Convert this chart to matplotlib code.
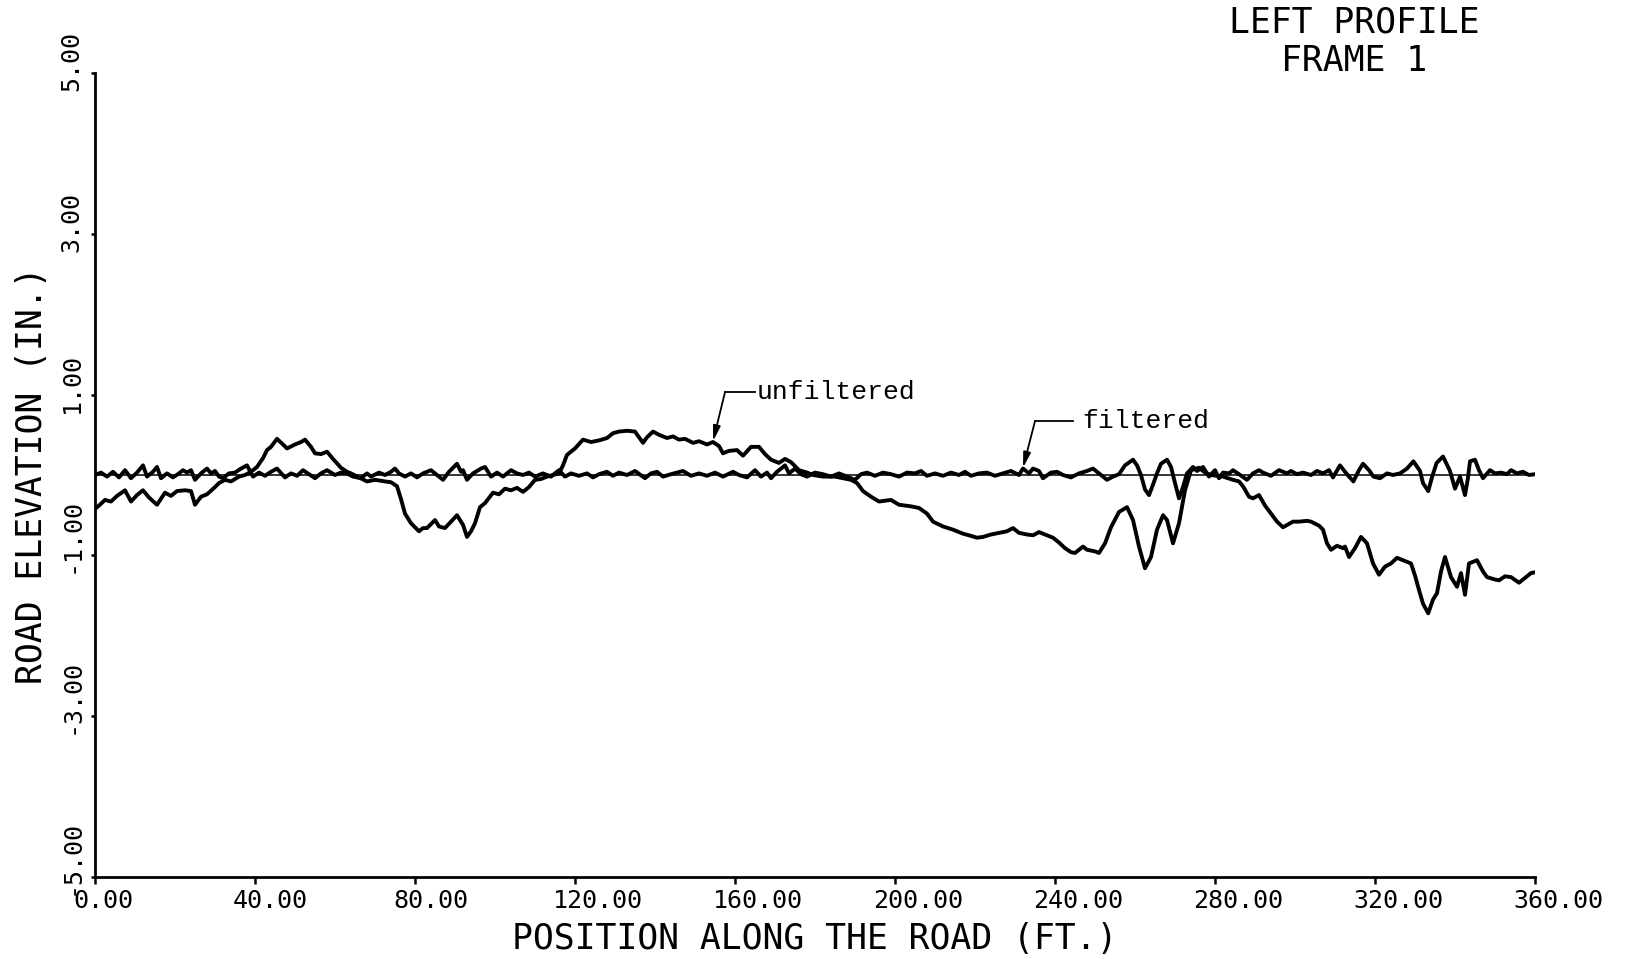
import matplotlib
matplotlib.use("Agg")
import matplotlib.pyplot as plt
import matplotlib.transforms as mtransforms

# Unfiltered road profile (position in ft, elevation in inches)
unf_x = [0, 1, 2.5, 4, 5.5, 7.5, 9, 10.5, 12, 13.5, 15.5, 17.5, 19, 20.5, 22.5, 24, 25,
         26.5, 28, 30, 31, 32.5, 34, 36, 37.5, 39, 40.5, 42, 43, 44, 45.5, 47, 48, 50,
         51.5, 52.5, 54, 55, 56.5, 58, 59.5, 61.5, 63, 64, 66, 68, 70, 72.5, 74, 75.5,
         76.5, 77.5, 79, 81, 82, 83, 85, 86, 87.5, 89, 90.5, 92, 93, 94, 95, 96.25,
         97.5, 99.5, 101, 102.5, 104, 105.5, 107, 108.5, 110, 111.5, 113, 116, 117, 118,
         120, 122, 124, 126, 128, 129.5, 131, 133, 135, 137, 138, 139.5, 141, 143,
         144.5, 146, 147.5, 149.5, 151, 153, 154.5, 156, 157, 158.5, 160.5, 162, 164,
         166, 167.5, 169, 171, 172.5, 174, 176, 178, 179.5, 182, 185, 187, 189, 190.5,
         192, 194, 196, 199, 201, 204, 206, 208, 209.5, 212, 214.5, 217, 218.5, 220.5,
         222, 224, 226, 228, 229.5, 231, 233, 234.5, 236, 238, 239.5, 241, 242.5, 244,
         245, 247, 248, 250, 251, 252.5, 254, 256, 258, 259.5, 261, 262.5, 264, 265.5,
         267, 268, 269.5, 271, 272.5, 274, 276, 277.5, 279, 282, 284.5, 286, 287,
         288.5, 289.5, 291, 292.5, 294, 295.5, 297, 299.5, 301, 303, 304, 306, 307, 308,
         309, 310.5, 312, 312.5, 313.5, 315, 316.5, 318, 319.5, 321, 322.5, 324, 325.5,
         327, 329, 330, 331, 332, 333.3, 334.5, 335.5, 336.5, 337.5, 339, 340.5, 341.5,
         342.5, 343.5, 345.5, 347, 348, 350, 351, 352.5, 354, 356, 357.5, 359, 360]
unf_y = [-0.42, -0.38, -0.31, -0.33, -0.26, -0.19, -0.33, -0.25, -0.19, -0.28, -0.37,
         -0.22, -0.26, -0.20, -0.19, -0.20, -0.37, -0.27, -0.24, -0.15, -0.10, -0.06,
         -0.08, -0.02, 0.00, 0.04, 0.10, 0.21, 0.31, 0.35, 0.45, 0.38, 0.33, 0.38, 0.41,
         0.44, 0.35, 0.27, 0.26, 0.29, 0.20, 0.09, 0.04, 0.02, -0.03, -0.08, -0.06,
         -0.08, -0.09, -0.14, -0.30, -0.48, -0.60, -0.70, -0.66, -0.66, -0.56, -0.64,
         -0.66, -0.58, -0.50, -0.62, -0.77, -0.70, -0.60, -0.40, -0.35, -0.22, -0.24,
         -0.17, -0.19, -0.16, -0.21, -0.15, -0.06, -0.05, -0.02, 0.02, 0.12, 0.25, 0.33,
         0.44, 0.41, 0.43, 0.46, 0.52, 0.54, 0.55, 0.54, 0.40, 0.47, 0.54, 0.50, 0.46,
         0.48, 0.44, 0.45, 0.40, 0.42, 0.38, 0.41, 0.36, 0.27, 0.30, 0.31, 0.24, 0.35,
         0.35, 0.26, 0.19, 0.15, 0.20, 0.16, 0.06, 0.03, 0.00, -0.02, -0.02, -0.04,
         -0.06, -0.10, -0.20, -0.27, -0.33, -0.31, -0.37, -0.39, -0.41, -0.48, -0.58,
         -0.64, -0.68, -0.73, -0.75, -0.78, -0.77, -0.74, -0.72, -0.70, -0.66, -0.72,
         -0.74, -0.75, -0.71, -0.75, -0.78, -0.84, -0.91, -0.96, -0.97, -0.89, -0.93,
         -0.95, -0.97, -0.85, -0.65, -0.46, -0.40, -0.56, -0.89, -1.16, -1.02, -0.68,
         -0.50, -0.56, -0.85, -0.60, -0.19, 0.06, 0.09, 0.03, 0.00, -0.02, -0.06, -0.08,
         -0.14, -0.27, -0.29, -0.25, -0.38, -0.48, -0.58, -0.65, -0.58, -0.58, -0.57,
         -0.58, -0.63, -0.68, -0.85, -0.93, -0.88, -0.91, -0.89, -1.02, -0.91, -0.77,
         -0.85, -1.10, -1.24, -1.14, -1.10, -1.03, -1.06, -1.10, -1.25, -1.43, -1.60,
         -1.72, -1.55, -1.47, -1.20, -1.02, -1.27, -1.39, -1.22, -1.49, -1.10, -1.06,
         -1.20, -1.27, -1.30, -1.31, -1.26, -1.27, -1.34, -1.28, -1.22, -1.21]

# Filtered road profile
fil_x = [0, 1.5, 3, 4.5, 6, 7.5, 9, 10.5, 12, 13, 14.5, 15.5, 16.5, 18, 19.5, 21, 22,
         23, 24, 25, 26.5, 28, 29, 30, 31, 32, 33.5, 35, 36.5, 38, 39.5, 41, 42.5, 44,
         45.5, 47.5, 49, 50.5, 52, 53.5, 55, 56.5, 58, 60, 61.5, 63, 64.5, 66.5, 68,
         69, 71, 72.5, 74, 75, 76, 77.5, 79, 80.5, 82, 84, 85.5, 87, 88.5, 90.5, 91.5,
         92, 93, 94.5, 96.5, 97.5, 99, 100.5, 102, 104, 105.5, 107, 108.5, 110, 112,
         114, 116, 117.5, 119, 121, 123, 124.5, 126, 128, 129.5, 131, 133, 135, 137.5,
         139, 140.5, 142, 144, 145.5, 147, 149, 151, 153, 155, 157, 159.5, 161, 163,
         165, 166.5, 168, 169, 170.5, 172.5, 173.5, 175, 176.5, 178, 180, 182, 184, 186,
         188, 190, 191.5, 193, 195, 197, 199, 201, 203, 205, 206.5, 208, 210, 212, 214,
         216, 217.5, 219, 221, 223, 225, 227, 229, 231, 232, 233.5, 234.5, 236, 237,
         239, 240.5, 242, 244, 246, 248, 249.5, 251, 253, 254.5, 256, 257.5, 259.5,
         260.5, 261.5, 262.5, 263.5, 264.5, 265.5, 266.5, 268, 269, 270, 271, 272, 273,
         274.5, 275.5, 277, 278.5, 280, 281, 282, 283.5, 284.5, 286, 288, 289.5, 291,
         292, 294, 296, 298, 299, 300.5, 302, 304, 305.5, 307, 308.5, 309.5, 311.25,
         312.5, 313.5, 314.6, 316, 317, 318.5, 319.6, 321.25, 323, 324.5, 326.25, 328,
         329.6, 331.25, 332, 333.3, 334.3, 335.4, 337, 338.75, 340, 341.25, 342.5,
         343.2, 343.75, 345, 346, 347, 348.75, 350, 351.5, 353, 354, 355.5, 357, 358.5,
         360]
fil_y = [0.00, 0.03, -0.02, 0.04, -0.03, 0.06, -0.04, 0.03, 0.12, -0.02, 0.04, 0.10,
         -0.04, 0.02, -0.03, 0.02, 0.06, 0.03, 0.06, -0.06, 0.02, 0.08, 0.02, 0.05,
         -0.02, -0.04, 0.02, 0.03, 0.08, 0.12, -0.02, 0.03, -0.01, 0.04, 0.08, -0.03,
         0.02, -0.01, 0.06, 0.01, -0.04, 0.02, 0.06, 0.00, 0.03, 0.02, -0.02, -0.04,
         0.02, -0.02, 0.03, 0.00, 0.04, 0.08, 0.02, -0.02, 0.02, -0.03, 0.02, 0.06, 0.00,
         -0.06, 0.04, 0.14, 0.04, 0.06, -0.06, 0.02, 0.08, 0.10, -0.02, 0.03, -0.02,
         0.06, 0.02, 0.00, 0.03, -0.02, 0.02, -0.02, 0.06, -0.02, 0.02, -0.01, 0.02,
         -0.03, 0.01, 0.04, -0.01, 0.03, 0.00, 0.05, -0.04, 0.02, 0.04, -0.02, 0.01,
         0.03, 0.05, -0.01, 0.02, -0.01, 0.03, -0.02, 0.04, 0.00, -0.03, 0.06, -0.02,
         0.03, -0.04, 0.04, 0.12, 0.02, 0.08, 0.01, -0.02, 0.03, 0.01, -0.02, 0.02,
         -0.02, -0.06, 0.01, 0.03, -0.01, 0.03, 0.01, -0.02, 0.03, 0.02, 0.05, -0.01,
         0.02, -0.01, 0.03, 0.00, 0.04, -0.01, 0.02, 0.03, -0.01, 0.02, 0.05, 0.00, 0.08,
         0.02, 0.08, 0.05, -0.04, 0.03, 0.04, 0.00, -0.03, 0.02, 0.05, 0.08, 0.02, -0.06,
         -0.02, 0.01, 0.12, 0.19, 0.12, 0.00, -0.18, -0.25, -0.12, 0.02, 0.14, 0.19,
         0.10, -0.10, -0.29, -0.15, 0.02, 0.10, 0.05, 0.10, -0.02, 0.06, -0.04, 0.03,
         0.02, 0.06, 0.01, -0.06, 0.02, 0.06, 0.03, -0.01, 0.06, 0.02, 0.05, 0.01, 0.03,
         0.00, 0.05, 0.02, 0.06, -0.03, 0.12, 0.04, -0.02, -0.08, 0.06, 0.14, 0.06,
         -0.02, -0.04, 0.02, 0.00, 0.02, 0.08, 0.17, 0.05, -0.10, -0.20, -0.02, 0.15,
         0.23, 0.05, -0.17, -0.02, -0.25, -0.05, 0.17, 0.19, 0.06, -0.04, 0.06, 0.02,
         0.03, 0.01, 0.06, 0.02, 0.04, 0.00, 0.01]

x_ticks = [0, 40, 80, 120, 160, 200, 240, 280, 320, 360]
x_tick_labels = ["0.00", "40.00", "80.00", "120.00", "160.00", "200.00", "240.00",
                 "280.00", "320.00", "360.00"]
y_ticks = [5, 3, 1, -1, -3, -5]
y_tick_labels = ["5.00", "3.00", "1.00", "-1.00", "-3.00", "-5.00"]

PLOT_FONT = "DejaVu Sans Mono"
NOTE_FONT = "Liberation Mono"

W, H, DPI = 1626, 959, 100
fig = plt.figure(figsize=(W / DPI, H / DPI), dpi=DPI, facecolor="white")
ax = fig.add_axes([95 / W, 1 - 877 / H, (1535 - 95) / W, (877 - 73) / H])

ax.axhline(0, color="black", lw=1.1, zorder=1)
ax.plot(unf_x, unf_y, color="black", lw=2.8, solid_joinstyle="round", zorder=2)
ax.plot(fil_x, fil_y, color="black", lw=2.8, solid_joinstyle="round", zorder=2)

ax.set_xlim(0, 360)
ax.set_ylim(-5, 5)
for side in ("top", "right"):
    ax.spines[side].set_visible(False)
for side in ("left", "bottom"):
    ax.spines[side].set_linewidth(2.0)

ax.set_xticks(x_ticks, x_tick_labels, fontfamily=PLOT_FONT, fontsize=18)
ax.set_yticks(y_ticks, y_tick_labels, fontfamily=PLOT_FONT, fontsize=18)
ax.tick_params(axis="x", direction="out", length=5, width=1.8, pad=4)
ax.tick_params(axis="y", direction="out", length=3, width=1.8, pad=8)

# x labels start just left of their tick
dx = mtransforms.ScaledTranslation(-22 / DPI, 0, fig.dpi_scale_trans)
for lab in ax.get_xticklabels():
    lab.set_horizontalalignment("left")
    lab.set_transform(lab.get_transform() + dx)

# y labels read upward, beginning just below their tick
dy = mtransforms.ScaledTranslation(-8 / DPI, -18 / DPI, fig.dpi_scale_trans)
for lab in ax.get_yticklabels():
    lab.set_rotation(90)
    lab.set_rotation_mode("anchor")
    lab.set_horizontalalignment("left")
    lab.set_verticalalignment("center")
    lab.set_transform(lab.get_transform() + dy)

ax.set_xlabel("POSITION ALONG THE ROAD (FT.)", fontfamily=PLOT_FONT, fontsize=25,
              labelpad=6)
ax.set_ylabel("ROAD ELEVATION (IN.)", fontfamily=PLOT_FONT, fontsize=25, labelpad=8)

fig.text(1354 / W, 1 - 42 / H, "LEFT PROFILE\nFRAME 1", ha="center", va="center",
         fontfamily=PLOT_FONT, fontsize=25, linespacing=1.15)

# Callouts
arrow = dict(arrowstyle="-|>,head_length=0.9,head_width=0.22", color="black",
             lw=1.3, shrinkA=0, shrinkB=0)
ax.annotate("", xy=(154.5, 0.42), xytext=(157.5, 1.03), arrowprops=arrow)
ax.plot([157.5, 165.0], [1.03, 1.03], color="black", lw=1.3)
ax.text(165.5, 1.03, "unfiltered", fontfamily=NOTE_FONT, fontsize=19,
        ha="left", va="center")

ax.annotate("", xy=(232.0, 0.09), xytext=(235.0, 0.67), arrowprops=arrow)
ax.plot([235.0, 244.5], [0.67, 0.67], color="black", lw=1.3)
ax.text(246.75, 0.67, "filtered", fontfamily=NOTE_FONT, fontsize=19,
        ha="left", va="center")

fig.savefig("out.png", dpi=DPI, facecolor="white")
